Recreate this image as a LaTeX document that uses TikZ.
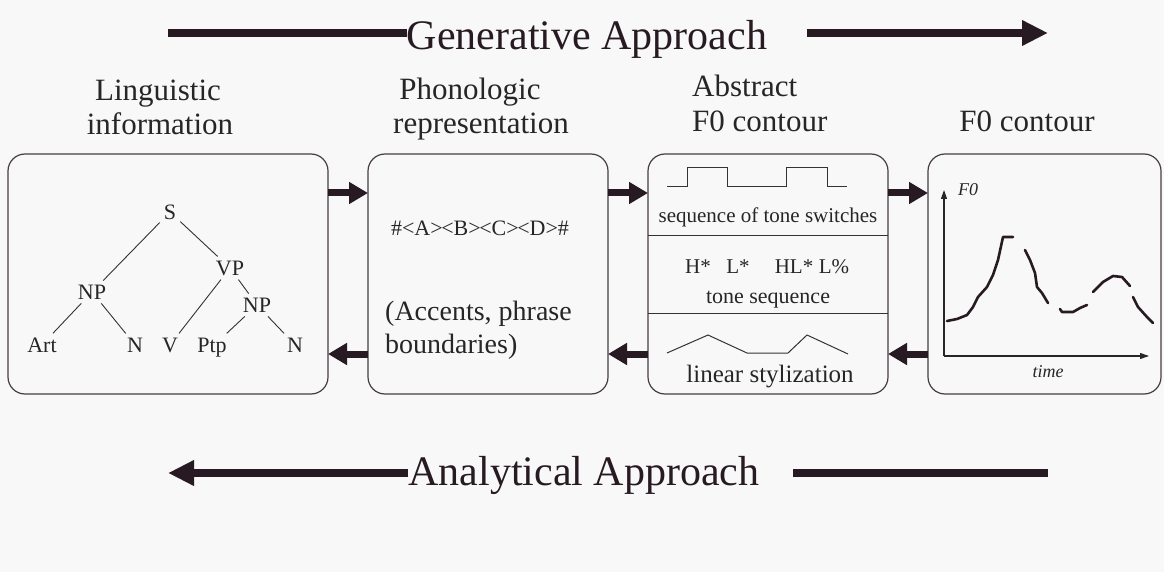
\documentclass[tikz,border=0pt]{standalone}
\usepackage{fontspec}
\setmainfont{Liberation Serif}
\usetikzlibrary{arrows.meta}
\definecolor{bgc}{RGB}{248,248,248}
\definecolor{ink}{RGB}{40,26,34}
\definecolor{boxc}{RGB}{70,60,66}
\newcommand{\myfs}[1]{\fontsize{#1}{#1}\selectfont}
\begin{document}
\begin{tikzpicture}[x=1pt,y=-1pt,
  panel/.style={draw=boxc, line width=1.2pt, rounded corners=17pt, outer sep=0pt, inner sep=0pt, anchor=north west},
  bigbar/.style={draw=ink, line width=8pt},
  bigarrow/.style={draw=ink, line width=8pt, -{Triangle[length=26pt,width=24pt]}},
  conn/.style={draw=ink, line width=7pt, -{Triangle[length=19pt,width=21pt]}},
  head/.style={font=\myfs{42}, anchor=base, inner sep=0pt, text=ink},
  title/.style={font=\myfs{31}, anchor=base, inner sep=0pt, text=black!85},
  tr/.style={font=\myfs{22}, inner sep=4pt, text=black!85},
  leaf/.style={tr, anchor=base},
  edge/.style={draw=black!80, line width=0.9pt},
  lab/.style={font=\myfs{22}, inner sep=0pt, text=black!85},
  thin/.style={draw=black!80, line width=1pt},
  curve/.style={draw=ink, line width=2.6pt, line join=round, line cap=round},
  ax/.style={draw=black!85, line width=1.1pt, -{Triangle[length=9pt,width=6pt]}}
]
\fill[bgc] (0,0) rectangle (1164,572);
\useasboundingbox (0,0) rectangle (1164,572);

% headings
\node[head] (gen) at (587,50) {Generative Approach};
\coordinate (g1) at (168,33);
\coordinate (g2) at (807,33);
\coordinate (g3) at (1048,33);
\draw[bigbar] (g1) -- (gen.west |- g1);
\draw[bigarrow] (g2) -- (g3);

\node[head] (ana) at (584,485) {Analytical Approach};
\coordinate (a1) at (168,473);
\coordinate (a2) at (793,473);
\coordinate (a3) at (1048,473);
\draw[bigarrow] (ana.west |- a1) -- (a1);
\draw[bigbar] (a2) -- (a3);

% titles
\node[title] (t1a) at (158,101) {Linguistic};
\node[title] (t1b) at (160,135) {information};
\node[title] (t2a) at (470,100) {Phonologic};
\node[title] (t2b) at (481,134) {representation};
\node[title, anchor=base west] (t3a) at (692,97) {Abstract};
\node[title, anchor=base west] (t3b) at (692,132) {F0 contour};
\node[title] (t4) at (1027,132) {F0 contour};

% panels
\node[panel, minimum width=320, minimum height=240] (b1) at (8,154) {};
\node[panel, minimum width=240, minimum height=240] (b2) at (368,154) {};
\node[panel, minimum width=240, minimum height=240] (b3) at (648,154) {};
\node[panel, minimum width=233, minimum height=240] (b4) at (928,154) {};

% connectors between panels
\coordinate (ya) at (0,193);
\coordinate (yb) at (0,354);
\draw[conn] (b1.east |- ya) -- (b2.west |- ya);
\draw[conn] (b2.east |- ya) -- (b3.west |- ya);
\draw[conn] (b3.east |- ya) -- (b4.west |- ya);
\draw[conn] (b4.west |- yb) -- (b3.east |- yb);
\draw[conn] (b3.west |- yb) -- (b2.east |- yb);
\draw[conn] (b2.west |- yb) -- (b1.east |- yb);

% tree
\node[tr] (S) at (170,212) {S};
\node[tr] (VP) at (230,268) {VP};
\node[tr] (NPa) at (92,292) {NP};
\node[tr] (NPb) at (257,305) {NP};
\node[leaf] (Art) at (42,352) {Art};
\node[leaf] (Na) at (135,352) {N};
\node[leaf] (V) at (170,352) {V};
\node[leaf] (Ptp) at (212,352) {Ptp};
\node[leaf] (Nb) at (295,352) {N};
\draw[edge] (S) -- (NPa);
\draw[edge] (S) -- (VP);
\draw[edge] (NPa) -- (Art);
\draw[edge] (NPa) -- (Na);
\draw[edge] (VP) -- (V);
\draw[edge] (VP) -- (NPb);
\draw[edge] (NPb) -- (Ptp);
\draw[edge] (NPb) -- (Nb);

% panel 2
\node[lab, font=\myfs{22}] (seq) at (480,228) {\#<A>\kern-1.5pt<B>\kern-1.5pt<C>\kern-1.5pt<D>\#};
\node[lab, font=\myfs{28}, anchor=base west] (acc1) at (385,320) {(Accents, phrase};
\node[lab, font=\myfs{28}, anchor=base west] (acc2) at (385,353) {boundaries)};

% panel 3
\draw[thin] (b3.west |- 0,235) -- (b3.east |- 0,235);
\draw[thin] (b3.west |- 0,313) -- (b3.east |- 0,313);
\draw[thin] (667,187) -- (687,187) -- (687,168) -- (727,168) -- (727,187) -- (786,187) -- (786,168) -- (827,168) -- (827,187) -- (847,187);
\node[lab, font=\myfs{21}] (sw) at (768,217) {sequence of tone switches};
\node[lab, font=\myfs{21}] (h1) at (698,267) {H*};
\node[lab, font=\myfs{21}] (h2) at (738,267) {L*};
\node[lab, font=\myfs{21}] (h3) at (794,267) {HL*};
\node[lab, font=\myfs{21}] (h4) at (834,267) {L\%};
\node[lab, font=\myfs{22}] (ts) at (768,300) {tone sequence};
\draw[thin] (667,353) -- (708,335) -- (747,353) -- (788,353) -- (807,335) -- (848,354);
\node[lab, font=\myfs{25}] (ls) at (770,377) {linear stylization};

% panel 4
\coordinate (o) at (944,356);
\coordinate (yt) at (944,190);
\coordinate (xt) at (1149,356);
\draw[ax] (o) -- (yt);
\draw[ax] (o) -- (xt);
\node[lab, font=\myfs{18}\itshape] (f0) at (968,190) {F0};
\node[lab, font=\myfs{18}\itshape] (tm) at (1048,372) {time};
\draw[curve] (947,321) -- (957,319) -- (967,315) -- (973,307) -- (978,297) -- (987,287) -- (993,275) -- (998,260) -- (1003,237) -- (1013,237);
\draw[curve] (1025,250) -- (1030,260) -- (1035,273) -- (1037,287) -- (1042,293) -- (1048,303);
\draw[curve] (1060,309) -- (1062,312) -- (1073,312) -- (1080,308) -- (1087,305);
\draw[curve] (1093,292) -- (1103,282) -- (1113,276) -- (1122,277) -- (1130,286);
\draw[curve] (1133,297) -- (1138,307) -- (1147,317) -- (1153,323);
\end{tikzpicture}
\end{document}
